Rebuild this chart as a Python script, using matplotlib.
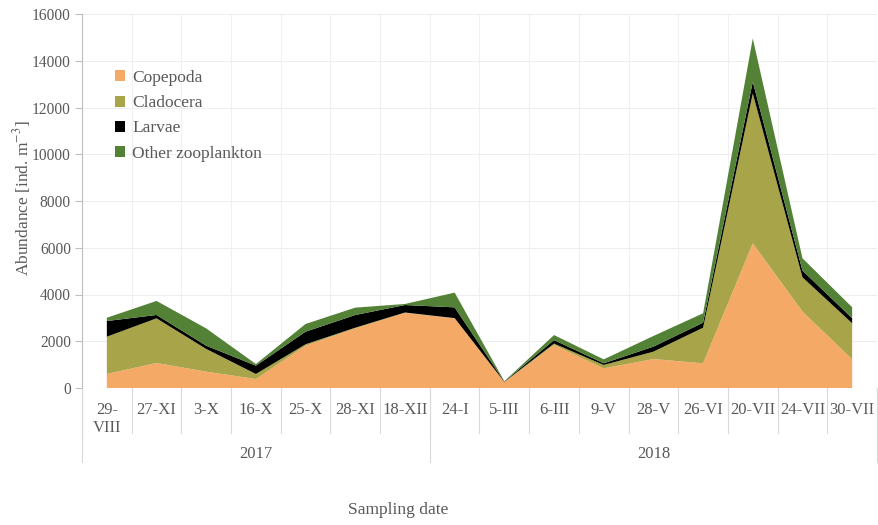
import numpy as np
import matplotlib
matplotlib.use("Agg")
import matplotlib.pyplot as plt
from matplotlib.patches import Patch
import matplotlib.transforms as mtransforms

dates = ["29-\nVIII", "27-XI", "3-X", "16-X", "25-X", "28-XI", "18-XII",
         "24-I", "5-III", "6-III", "9-V", "28-V", "26-VI", "20-VII", "24-VII", "30-VII"]
years = ["2017", "2018"]
year_counts = [7, 9]

copepoda = [600, 1070, 700, 385, 1810, 2550, 3220, 2980, 250, 1840, 840, 1240, 1055, 6190, 3270, 1230]
cladocera = [1595, 1910, 970, 215, 60, 30, 10, 10, 10, 60, 145, 315, 1525, 6410, 1465, 1540]
larvae = [670, 145, 140, 355, 540, 543, 320, 460, 15, 150, 70, 215, 215, 500, 285, 215]
other = [140, 600, 740, 70, 330, 315, 45, 630, 15, 215, 170, 455, 400, 1855, 530, 470]

series_names = ["Copepoda", "Cladocera", "Larvae", "Other zooplankton"]
colors = ["#F5A966", "#A8A449", "#000000", "#538135"]
text_color = "#595959"

plt.rcParams["font.family"] = ["Liberation Serif", "DejaVu Serif"]
plt.rcParams["mathtext.fontset"] = "stix"

fig = plt.figure(figsize=(8.79, 5.25), dpi=100)
ax = fig.add_axes([82 / 879, 1 - 388 / 525, (877 - 82) / 879, (388 - 14) / 525])

x = np.arange(len(dates))
ax.stackplot(x, copepoda, cladocera, larvae, other, colors=colors, linewidth=0, zorder=3)

ax.set_xlim(-0.5, len(dates) - 0.5)
ax.set_ylim(0, 16000)
ax.set_yticks(np.arange(0, 16001, 2000))
ax.set_yticklabels([str(v) for v in range(0, 16001, 2000)], fontsize=11.2, color=text_color)
ax.tick_params(axis="y", length=5, width=0.8, color="#BFBFBF", pad=3)

ax.set_xticks(x)
ax.set_xticklabels(dates, fontsize=12, color=text_color, linespacing=1.15)
ax.tick_params(axis="x", length=0, pad=10)

# gridlines
ax.grid(axis="y", color="#EEEEEE", linewidth=0.8, zorder=0)
for b in np.arange(-0.5, len(dates), 1.0):
    ax.axvline(b, color="#F0F0F0", linewidth=0.8, zorder=0)

for side in ["top", "right", "bottom"]:
    ax.spines[side].set_visible(False)
ax.spines["left"].set_color("#BFBFBF")
ax.spines["left"].set_linewidth(0.8)

# multi-level category axis separators
trans = mtransforms.blended_transform_factory(ax.transData, ax.transAxes)
for b in np.arange(-0.5, len(dates), 1.0):
    ax.plot([b, b], [0, -45 / 374], transform=trans, color="#D9D9D9",
            linewidth=0.8, clip_on=False)
start = -0.5
for yr, n in zip(years, year_counts):
    ax.plot([start, start], [0, -74 / 374], transform=trans, color="#D9D9D9",
            linewidth=0.8, clip_on=False)
    ax.text(start + n / 2, -66 / 374, yr, transform=trans, ha="center", va="center",
            fontsize=12, color=text_color)
    start += n
ax.plot([start, start], [0, -74 / 374], transform=trans, color="#D9D9D9",
        linewidth=0.8, clip_on=False)

fig.text(398 / 879, 1 - 510 / 525, "Sampling date", ha="center", va="center",
         fontsize=12.5, color=text_color)
fig.text(22 / 879, 1 - 198 / 525, "Abundance [ind. m$^{-3}$]", ha="center", va="center",
         rotation=90, fontsize=12.5, color=text_color)

handles = [Patch(facecolor=c, edgecolor="none") for c in colors]
fig.legend(handles, series_names, loc="upper left",
           bbox_to_anchor=(115 / 879, 1 - 70 / 525), frameon=False,
           fontsize=12.5, labelcolor=text_color, handlelength=0.6, handleheight=0.6,
           handletextpad=0.4, labelspacing=0.53, borderpad=0, borderaxespad=0)

fig.savefig("out.png", dpi=100)
